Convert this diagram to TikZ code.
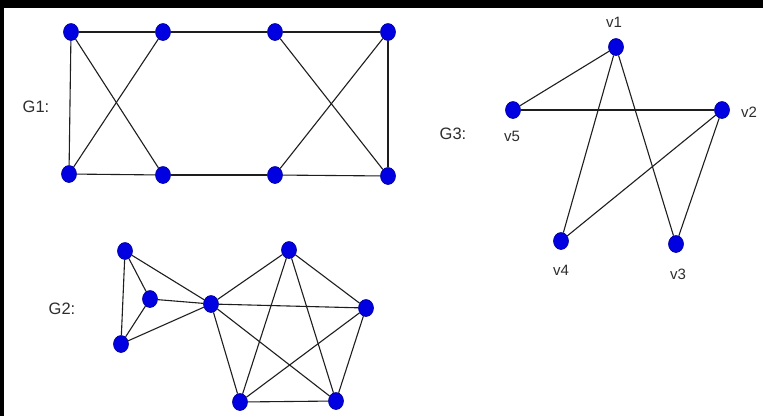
\documentclass[tikz,border=0pt]{standalone}
\usepackage{fontspec}
\setmainfont{Liberation Sans}
\usetikzlibrary{shapes.geometric}
\definecolor{nodeblue}{RGB}{0,0,225}
\definecolor{nodeedge}{RGB}{0,0,150}
\definecolor{edgegray}{RGB}{30,30,30}
\definecolor{txtgray}{RGB}{45,45,45}
\tikzset{
  vtx/.style={ellipse, fill=nodeblue, draw=nodeedge, line width=0.6pt,
    minimum width=15pt, minimum height=17pt, inner sep=0pt},
  edg/.style={draw=edgegray, line width=1.1pt},
  glabel/.style={text=txtgray, font=\fontsize{16.5}{18}\selectfont, inner sep=0pt},
  vlabel/.style={text=txtgray, font=\fontsize{15}{17}\selectfont, inner sep=0pt}
}
\begin{document}
\begin{tikzpicture}[x=1pt,y=-1pt]
\useasboundingbox (0,0) rectangle (763,416);
\fill[white] (0,0) rectangle (763,416);
\fill[black] (0,0) rectangle (763,8);
\fill[black] (0,0) rectangle (4,416);
% G1
\node[glabel] (g1lab) at (36,107) {G1:};
\node[vtx] (a1) at (71,32) {};
\node[vtx] (a2) at (163,32) {};
\node[vtx] (a3) at (275,32) {};
\node[vtx] (a4) at (388,32) {};
\node[vtx] (a5) at (69,174) {};
\node[vtx] (a6) at (163,175) {};
\node[vtx] (a7) at (275,175) {};
\node[vtx] (a8) at (388,176) {};
\draw[edg] (a1) -- (a2); \draw[edg] (a2) -- (a3); \draw[edg] (a3) -- (a4);
\draw[edg] (a5) -- (a6); \draw[edg] (a6) -- (a7); \draw[edg] (a7) -- (a8);
\draw[edg] (a1) -- (a5); \draw[edg] (a4) -- (a8);
\draw[edg] (a1) -- (a6); \draw[edg] (a2) -- (a5);
\draw[edg] (a3) -- (a8); \draw[edg] (a4) -- (a7);
% G2
\node[glabel] (g2lab) at (62,309) {G2:};
\node[vtx] (b1) at (125,251) {};
\node[vtx] (b2) at (150,299) {};
\node[vtx] (b3) at (121,344) {};
\node[vtx] (b4) at (211,304) {};
\node[vtx] (b5) at (289,250) {};
\node[vtx] (b6) at (366,308) {};
\node[vtx] (b7) at (336,401) {};
\node[vtx] (b8) at (240,402) {};
\draw[edg] (b1) -- (b2); \draw[edg] (b1) -- (b3); \draw[edg] (b1) -- (b4);
\draw[edg] (b2) -- (b3); \draw[edg] (b2) -- (b4); \draw[edg] (b3) -- (b4);
\draw[edg] (b4) -- (b5); \draw[edg] (b4) -- (b6); \draw[edg] (b4) -- (b7); \draw[edg] (b4) -- (b8);
\draw[edg] (b5) -- (b6); \draw[edg] (b5) -- (b7); \draw[edg] (b5) -- (b8);
\draw[edg] (b6) -- (b7); \draw[edg] (b6) -- (b8); \draw[edg] (b7) -- (b8);
% G3
\node[glabel] (g3lab) at (453,134) {G3:};
\node[vtx] (v1) at (616,47) {};
\node[vtx] (v2) at (722,110) {};
\node[vtx] (v3) at (676,244) {};
\node[vtx] (v4) at (561,241) {};
\node[vtx] (v5) at (513,110) {};
\node[vlabel] (l1) at (614,22) {v1};
\node[vlabel] (l2) at (749,112) {v2};
\node[vlabel] (l3) at (678,274) {v3};
\node[vlabel] (l4) at (561,270) {v4};
\node[vlabel] (l5) at (512,136) {v5};
\draw[edg] (v1) -- (v5); \draw[edg] (v5) -- (v2);
\draw[edg] (v1) -- (v4); \draw[edg] (v1) -- (v3);
\draw[edg] (v2) -- (v4); \draw[edg] (v2) -- (v3);
\end{tikzpicture}
\end{document}
